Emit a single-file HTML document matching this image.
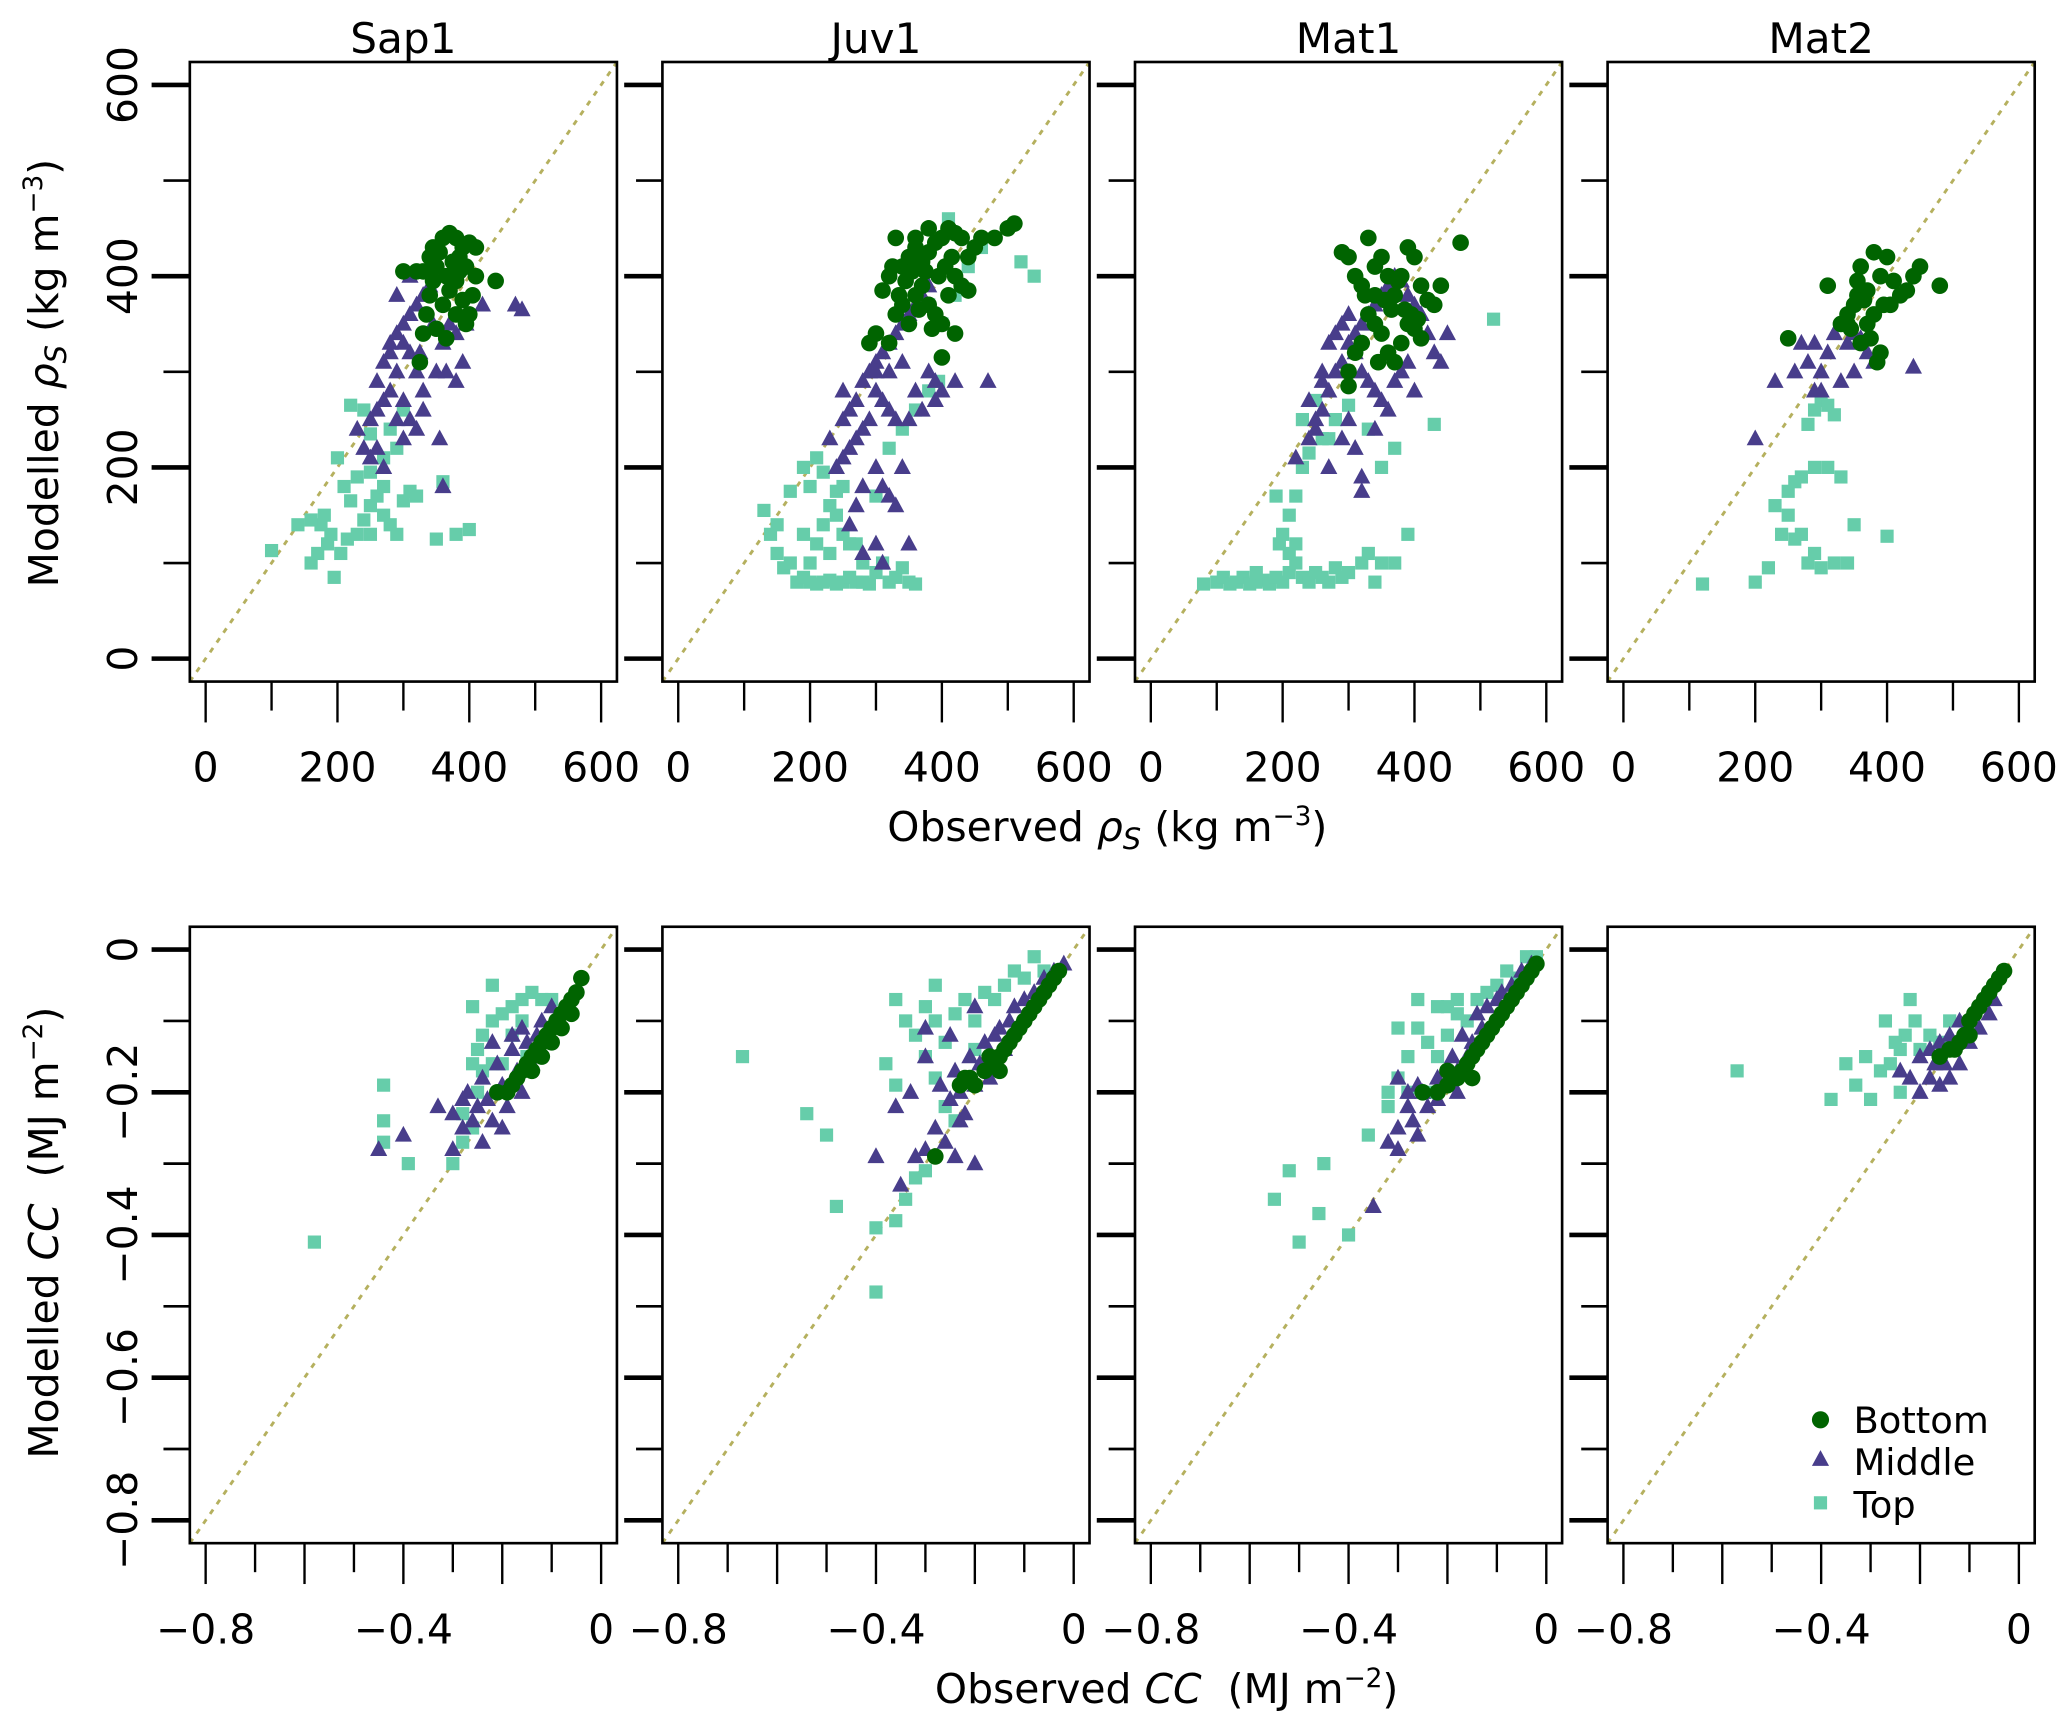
<!DOCTYPE html>
<html><head><meta charset="utf-8">
<style>
html,body{margin:0;padding:0;background:#fff;}
svg{display:block;font-family:"DejaVu Sans","Liberation Sans",sans-serif;}
svg text{white-space:pre;}
</style></head>
<body>
<svg id="fig" xmlns="http://www.w3.org/2000/svg" width="2067" height="1730" viewBox="0 0 1568 1312.3">
<rect x="0" y="0" width="1568" height="1312.3" fill="#fff"/>
<g id="plots"></g>
<text transform="translate(44,283) rotate(-90)" text-anchor="middle" font-size="31">Modelled <tspan font-style="italic">ρ</tspan><tspan font-style="italic" font-size="22" baseline-shift="-6">S</tspan> (kg m<tspan font-size="20" baseline-shift="12">−3</tspan>)</text>
<text x="840" y="638" text-anchor="middle" font-size="31">Observed <tspan font-style="italic">ρ</tspan><tspan font-style="italic" font-size="22" baseline-shift="-6">S</tspan> (kg m<tspan font-size="20" baseline-shift="12">−3</tspan>)</text>
<text transform="translate(44,935) rotate(-90)" text-anchor="middle" font-size="31" xml:space="preserve">Modelled <tspan font-style="italic">CC</tspan>  (MJ m<tspan font-size="20" baseline-shift="12">−2</tspan>)</text>
<text x="885" y="1292" text-anchor="middle" font-size="31" xml:space="preserve">Observed <tspan font-style="italic">CC</tspan>  (MJ m<tspan font-size="20" baseline-shift="12">−2</tspan>)</text>
</svg>
<script>
const panelNames = ["Sap1","Juv1","Mat1","Mat2"];
const rhoBottom = [
[[330,405],[340,420],[345,430],[355,425],[360,440],[370,445],[380,440],[390,430],[400,435],[410,430],[350,410],[365,400],[375,415],[385,420],[395,410],[380,395],[370,385],[360,370],[390,375],[400,360],[405,380],[410,400],[440,395],[340,380],[335,360],[330,340],[350,345],[380,360],[395,350],[365,335],[320,405],[300,405],[325,310],[345,395],[385,405]],
[[310,385],[320,400],[330,440],[340,410],[350,420],[360,430],[370,415],[380,425],[390,435],[400,440],[410,450],[420,445],[430,440],[440,420],[450,430],[460,440],[480,440],[500,450],[510,455],[300,340],[290,330],[330,360],[340,370],[350,350],[360,380],[370,390],[380,370],[390,360],[400,350],[410,380],[420,400],[430,390],[440,385],[400,315],[420,340],[385,345],[345,395],[355,405],[365,365],[335,380],[320,330],[375,405],[395,400],[405,410],[415,420],[325,410],[360,440],[380,450]],
[[290,425],[300,420],[310,400],[320,390],[330,440],[340,410],[350,420],[360,400],[370,380],[380,400],[390,430],[400,420],[410,390],[420,375],[430,370],[440,390],[470,435],[300,300],[310,320],[320,330],[330,360],[340,350],[350,340],[360,320],[370,310],[380,330],[390,350],[400,345],[410,335],[340,380],[355,375],[365,365],[385,365],[395,360],[300,285],[345,310],[325,380],[375,395],[405,355]],
[[250,335],[310,390],[330,350],[340,360],[350,370],[355,395],[360,410],[370,385],[380,425],[390,400],[400,420],[410,395],[420,380],[430,385],[440,400],[450,410],[480,390],[340,350],[360,330],[370,350],[380,360],[390,320],[385,310],[375,335],[395,370],[345,345],[355,380],[365,375],[405,370]]
];
const rhoMiddle = [
[[250,250],[260,290],[270,310],[280,330],[290,340],[300,350],[310,360],[320,370],[330,380],[340,390],[300,330],[310,320],[290,300],[280,280],[270,270],[260,260],[320,300],[330,280],[350,300],[360,330],[370,350],[380,340],[390,310],[395,350],[420,370],[470,370],[480,365],[280,320],[300,270],[290,250],[310,250],[320,240],[330,260],[355,230],[360,180],[240,220],[260,220],[270,200],[300,230],[250,210],[290,380],[310,400],[325,320],[345,350],[365,300],[380,290],[230,240]],
[[250,280],[260,260],[270,270],[280,290],[290,300],[300,310],[310,320],[320,330],[330,340],[340,350],[350,360],[360,370],[370,380],[380,390],[300,280],[310,270],[320,260],[330,250],[290,250],[280,240],[270,230],[260,220],[250,210],[240,200],[300,200],[310,180],[320,170],[330,160],[340,200],[350,250],[360,280],[380,300],[390,290],[400,280],[420,290],[470,290],[390,270],[280,180],[270,160],[260,140],[300,120],[310,100],[280,110],[350,120],[370,260],[250,250],[230,230],[320,300],[340,310],[300,300]],
[[220,210],[240,230],[250,240],[260,260],[270,280],[280,300],[290,310],[300,330],[310,340],[320,350],[330,360],[340,370],[350,380],[360,390],[370,400],[380,395],[390,380],[400,370],[410,360],[420,340],[430,320],[440,310],[450,340],[270,330],[280,340],[290,350],[300,360],[310,320],[320,300],[330,290],[340,280],[350,270],[360,260],[370,290],[380,300],[390,310],[400,280],[260,290],[250,250],[300,250],[310,220],[320,190],[270,200],[340,240],[290,230],[260,300],[240,270],[320,175]],
[[200,230],[230,290],[260,300],[280,310],[290,330],[300,300],[310,320],[320,340],[330,350],[340,330],[350,340],[360,335],[370,320],[380,310],[350,300],[440,305],[300,280],[330,290],[270,330],[290,280]]
];
const rhoTop = [
[[100,113],[140,140],[160,100],[170,110],[180,150],[190,130],[195,85],[200,210],[210,180],[220,165],[230,130],[240,145],[250,160],[260,170],[270,150],[280,140],[290,130],[300,165],[310,175],[320,170],[230,190],[250,195],[270,210],[290,220],[280,240],[240,260],[220,265],[250,235],[300,260],[270,180],[350,125],[380,130],[400,135],[360,185],[205,110],[215,125],[250,130],[175,140],[160,145],[185,120]],
[[130,155],[140,130],[150,110],[160,95],[170,100],[180,80],[190,85],[200,80],[210,78],[220,80],[230,82],[240,78],[250,80],[260,85],[270,80],[280,80],[290,78],[300,90],[310,100],[320,80],[330,85],[340,95],[350,80],[360,78],[200,100],[210,120],[220,140],[230,160],[240,175],[250,180],[200,180],[190,200],[210,210],[220,195],[240,150],[250,130],[260,120],[280,100],[300,170],[320,220],[340,240],[360,260],[380,280],[400,350],[420,380],[440,410],[460,430],[520,415],[540,400],[410,460],[170,175],[150,140],[190,130],[230,110],[270,120],[380,370],[395,290]],
[[80,78],[100,80],[110,85],[120,78],[130,80],[140,85],[150,78],[160,80],[170,82],[180,78],[190,85],[200,80],[210,90],[220,100],[230,85],[240,80],[250,90],[260,85],[270,80],[280,95],[290,85],[300,90],[320,100],[330,110],[350,100],[340,80],[370,100],[390,130],[200,130],[210,150],[220,170],[230,200],[240,215],[260,230],[280,250],[300,265],[190,170],[195,120],[210,110],[250,270],[330,240],[350,200],[370,220],[430,245],[520,355],[230,250],[270,230],[160,90],[220,120]],
[[120,78],[200,80],[220,95],[240,130],[260,125],[280,100],[300,95],[320,100],[340,100],[350,140],[400,128],[230,160],[250,175],[270,190],[290,200],[310,200],[330,190],[250,150],[260,185],[280,245],[290,260],[300,270],[310,265],[320,255],[270,130],[290,110]]
];
const ccBottom = [
[[-0.04,-0.04],[-0.05,-0.06],[-0.06,-0.07],[-0.07,-0.08],[-0.08,-0.09],[-0.09,-0.10],[-0.10,-0.11],[-0.11,-0.12],[-0.12,-0.13],[-0.13,-0.14],[-0.14,-0.15],[-0.15,-0.16],[-0.16,-0.17],[-0.17,-0.18],[-0.18,-0.19],[-0.19,-0.20],[-0.21,-0.20],[-0.10,-0.13],[-0.12,-0.15],[-0.08,-0.11],[-0.14,-0.17],[-0.06,-0.09]],
[[-0.03,-0.03],[-0.04,-0.04],[-0.05,-0.05],[-0.06,-0.06],[-0.07,-0.07],[-0.08,-0.08],[-0.09,-0.09],[-0.10,-0.10],[-0.11,-0.11],[-0.12,-0.12],[-0.13,-0.13],[-0.14,-0.14],[-0.15,-0.15],[-0.16,-0.16],[-0.18,-0.17],[-0.20,-0.19],[-0.22,-0.18],[-0.23,-0.19],[-0.28,-0.29],[-0.21,-0.18],[-0.17,-0.15],[-0.15,-0.17]],
[[-0.02,-0.02],[-0.03,-0.03],[-0.04,-0.04],[-0.05,-0.05],[-0.06,-0.06],[-0.07,-0.07],[-0.08,-0.08],[-0.09,-0.09],[-0.10,-0.10],[-0.11,-0.11],[-0.12,-0.12],[-0.13,-0.13],[-0.14,-0.14],[-0.15,-0.15],[-0.16,-0.16],[-0.17,-0.17],[-0.18,-0.18],[-0.20,-0.19],[-0.22,-0.20],[-0.25,-0.20],[-0.20,-0.17],[-0.15,-0.18]],
[[-0.03,-0.03],[-0.04,-0.04],[-0.05,-0.05],[-0.06,-0.06],[-0.07,-0.07],[-0.08,-0.08],[-0.09,-0.09],[-0.10,-0.10],[-0.11,-0.12],[-0.12,-0.13],[-0.13,-0.14],[-0.14,-0.14],[-0.16,-0.15],[-0.10,-0.12]]
];
const ccMiddle = [
[[-0.45,-0.28],[-0.40,-0.26],[-0.33,-0.22],[-0.30,-0.23],[-0.28,-0.25],[-0.27,-0.20],[-0.25,-0.22],[-0.24,-0.18],[-0.23,-0.21],[-0.22,-0.24],[-0.21,-0.16],[-0.20,-0.19],[-0.19,-0.22],[-0.18,-0.14],[-0.17,-0.17],[-0.16,-0.20],[-0.15,-0.13],[-0.14,-0.16],[-0.13,-0.12],[-0.12,-0.10],[-0.20,-0.25],[-0.26,-0.24],[-0.28,-0.21],[-0.18,-0.12],[-0.22,-0.13],[-0.16,-0.11],[-0.24,-0.27],[-0.10,-0.08],[-0.30,-0.28]],
[[-0.40,-0.29],[-0.35,-0.33],[-0.32,-0.29],[-0.30,-0.28],[-0.28,-0.25],[-0.27,-0.19],[-0.25,-0.21],[-0.24,-0.17],[-0.23,-0.20],[-0.22,-0.23],[-0.21,-0.15],[-0.20,-0.19],[-0.19,-0.16],[-0.18,-0.13],[-0.17,-0.18],[-0.16,-0.12],[-0.15,-0.11],[-0.14,-0.14],[-0.13,-0.10],[-0.12,-0.08],[-0.10,-0.07],[-0.08,-0.06],[-0.06,-0.04],[-0.04,-0.03],[-0.02,-0.02],[-0.26,-0.27],[-0.23,-0.24],[-0.30,-0.15],[-0.33,-0.20],[-0.36,-0.22],[-0.20,-0.30],[-0.25,-0.12],[-0.30,-0.11],[-0.24,-0.29],[-0.20,-0.08]],
[[-0.35,-0.36],[-0.32,-0.27],[-0.30,-0.25],[-0.28,-0.22],[-0.27,-0.24],[-0.26,-0.19],[-0.25,-0.20],[-0.24,-0.22],[-0.22,-0.18],[-0.20,-0.19],[-0.19,-0.15],[-0.18,-0.17],[-0.17,-0.12],[-0.16,-0.15],[-0.15,-0.13],[-0.14,-0.09],[-0.13,-0.11],[-0.12,-0.08],[-0.10,-0.07],[-0.09,-0.06],[-0.07,-0.05],[-0.05,-0.03],[-0.03,-0.02],[-0.30,-0.18],[-0.28,-0.20],[-0.22,-0.21],[-0.18,-0.20],[-0.26,-0.26],[-0.30,-0.28]],
[[-0.20,-0.20],[-0.22,-0.18],[-0.18,-0.18],[-0.16,-0.19],[-0.14,-0.18],[-0.12,-0.16],[-0.10,-0.13],[-0.08,-0.11],[-0.06,-0.09],[-0.05,-0.07],[-0.20,-0.15],[-0.18,-0.14],[-0.16,-0.13],[-0.14,-0.12],[-0.12,-0.10],[-0.24,-0.17],[-0.17,-0.16],[-0.15,-0.16]]
];
const ccTop = [
[[-0.58,-0.41],[-0.44,-0.19],[-0.44,-0.24],[-0.44,-0.27],[-0.39,-0.30],[-0.30,-0.30],[-0.28,-0.27],[-0.26,-0.25],[-0.25,-0.14],[-0.24,-0.12],[-0.22,-0.10],[-0.20,-0.09],[-0.18,-0.08],[-0.16,-0.07],[-0.14,-0.06],[-0.12,-0.07],[-0.20,-0.16],[-0.22,-0.16],[-0.24,-0.17],[-0.26,-0.16],[-0.18,-0.12],[-0.16,-0.10],[-0.10,-0.07],[-0.25,-0.20],[-0.28,-0.23],[-0.26,-0.08],[-0.22,-0.05],[-0.15,-0.15]],
[[-0.67,-0.15],[-0.54,-0.23],[-0.50,-0.26],[-0.48,-0.36],[-0.40,-0.39],[-0.40,-0.48],[-0.36,-0.38],[-0.34,-0.35],[-0.32,-0.32],[-0.30,-0.31],[-0.36,-0.07],[-0.34,-0.10],[-0.32,-0.12],[-0.30,-0.08],[-0.28,-0.10],[-0.26,-0.13],[-0.24,-0.09],[-0.22,-0.07],[-0.20,-0.10],[-0.18,-0.06],[-0.16,-0.07],[-0.14,-0.05],[-0.12,-0.03],[-0.10,-0.04],[-0.08,-0.01],[-0.06,-0.03],[-0.30,-0.15],[-0.28,-0.18],[-0.26,-0.22],[-0.24,-0.24],[-0.36,-0.19],[-0.38,-0.16],[-0.20,-0.14],[-0.28,-0.05]],
[[-0.55,-0.35],[-0.52,-0.31],[-0.50,-0.41],[-0.46,-0.37],[-0.40,-0.40],[-0.45,-0.30],[-0.36,-0.26],[-0.32,-0.22],[-0.30,-0.18],[-0.28,-0.20],[-0.26,-0.11],[-0.24,-0.13],[-0.22,-0.08],[-0.20,-0.12],[-0.18,-0.07],[-0.16,-0.10],[-0.14,-0.07],[-0.12,-0.06],[-0.10,-0.05],[-0.08,-0.03],[-0.06,-0.04],[-0.04,-0.01],[-0.02,-0.01],[-0.30,-0.11],[-0.28,-0.15],[-0.26,-0.07],[-0.22,-0.15],[-0.24,-0.20],[-0.20,-0.08],[-0.32,-0.20],[-0.18,-0.09]],
[[-0.57,-0.17],[-0.38,-0.21],[-0.35,-0.16],[-0.33,-0.19],[-0.31,-0.15],[-0.30,-0.21],[-0.28,-0.17],[-0.26,-0.16],[-0.24,-0.14],[-0.22,-0.07],[-0.21,-0.10],[-0.23,-0.12],[-0.25,-0.13],[-0.20,-0.14],[-0.18,-0.12],[-0.16,-0.13],[-0.14,-0.10],[-0.24,-0.20],[-0.27,-0.10]]
];
const rhoTicksMajor = [0,200,400,600];
const rhoTicksMinor = [100,300,500];
const ccTicksLabel = [-0.8,-0.4,0];
const ccTicksMajor = [-0.8,-0.6,-0.4,-0.2,0];
const ccTicksMinor = [-0.7,-0.5,-0.3,-0.1];
const ccYTicksMajor = [0,-0.2,-0.4,-0.6,-0.8];
const ccYTicksMinor = [-0.1,-0.3,-0.5,-0.7];

const NS="http://www.w3.org/2000/svg";
const root=document.getElementById('plots');
const PX=[144,502.5,861,1219.5], PW=324;
const C_B="#006400", C_M="#483D8B", C_T="#66CDAA";
function mk(tag,attrs,parent){const e=document.createElementNS(NS,tag);for(const k in attrs)e.setAttribute(k,attrs[k]);(parent||root).appendChild(e);return e;}
function fmt(v){return v===0?"0":(v<0?"\u2212"+Math.abs(v):String(v));}

function drawPanel(p,row){
  const top=row===0?47:703, bot=row===0?517:1170.6;
  const lo=row===0?-24:-0.832, hi=row===0?624:0.032;
  const x0=PX[p], x1=x0+PW;
  const sx=v=>x0+(v-lo)/(hi-lo)*PW;
  const sy=v=>bot-(v-lo)/(hi-lo)*(bot-top);
  const g=mk('g',{});
  
  
  const ln=mk('line',{x1:x0,y1:bot,x2:x1,y2:top,stroke:"#B5B05E","stroke-width":2.2,"stroke-dasharray":"4 5"},g);
  
  
  const tops=row===0?rhoTop[p]:ccTop[p], mids=row===0?rhoMiddle[p]:ccMiddle[p], bots=row===0?rhoBottom[p]:ccBottom[p];
  tops.forEach(d=>{const r=mk('rect',{x:sx(d[0])-5,y:sy(d[1])-5,width:10,height:10,fill:C_T},g);
    
    });
  mids.forEach(d=>{const cx=sx(d[0]),cy=sy(d[1]);const t=mk('polygon',{points:`${cx},${cy-7} ${cx-6.5},${cy+5} ${cx+6.5},${cy+5}`,fill:C_M},g);
    
    });
  bots.forEach(d=>{const c=mk('circle',{cx:sx(d[0]),cy:sy(d[1]),r:6.3,fill:C_B},g);
    
    });
  const fr=mk('rect',{x:x0,y:top,width:PW,height:bot-top,fill:"none",stroke:"#000","stroke-width":2},g);
  
  
  const xMaj=row===0?rhoTicksMajor:ccTicksMajor, xMin=row===0?rhoTicksMinor:ccTicksMinor;
  xMaj.forEach(v=>mk('line',{x1:sx(v),y1:bot,x2:sx(v),y2:bot+31,stroke:"#000","stroke-width":1.8},g));
  xMin.forEach(v=>mk('line',{x1:sx(v),y1:bot,x2:sx(v),y2:bot+22,stroke:"#000","stroke-width":1.8},g));
  const xLab=row===0?rhoTicksMajor:ccTicksLabel;
  xLab.forEach(v=>{const t=mk('text',{x:sx(v),y:bot+76,"text-anchor":"middle","font-size":31},g);t.textContent=fmt(v);
    
    });
  const yMaj=row===0?rhoTicksMajor:ccYTicksMajor, yMin=row===0?rhoTicksMinor:ccYTicksMinor;
  yMaj.forEach(v=>mk('line',{x1:x0-29,y1:sy(v),x2:x0,y2:sy(v),stroke:"#000","stroke-width":3.5},g));
  yMin.forEach(v=>mk('line',{x1:x0-20,y1:sy(v),x2:x0,y2:sy(v),stroke:"#000","stroke-width":2},g));
  if(p===0){
    const yl=row===0?rhoTicksMajor:ccYTicksMajor;
    yl.forEach(v=>{const t=mk('text',{transform:`translate(${x0-40},${sy(v)}) rotate(-90)`,"text-anchor":"middle","font-size":31},g);t.textContent=fmt(v);
      
      });
  }
  if(row===0){
    const t=mk('text',{x:x0+PW/2,y:40,"text-anchor":"middle","font-size":32},g);t.textContent=panelNames[p];
    
    
  }
}
for(let p=0;p<4;p++){drawPanel(p,0);drawPanel(p,1);}
const lg=mk('g',{});


mk('circle',{cx:1381,cy:1077,r:6.5,fill:C_B},lg);
mk('polygon',{points:"1381,1100 1374.5,1112 1387.5,1112",fill:C_M},lg);
mk('rect',{x:1376,y:1135,width:10,height:10,fill:C_T},lg);
[["Bottom",1087],["Middle",1119],["Top",1151]].forEach(a=>{const t=mk('text',{x:1406,y:a[1],"font-size":28},lg);t.textContent=a[0];
  
  });
</script>
</body></html>
